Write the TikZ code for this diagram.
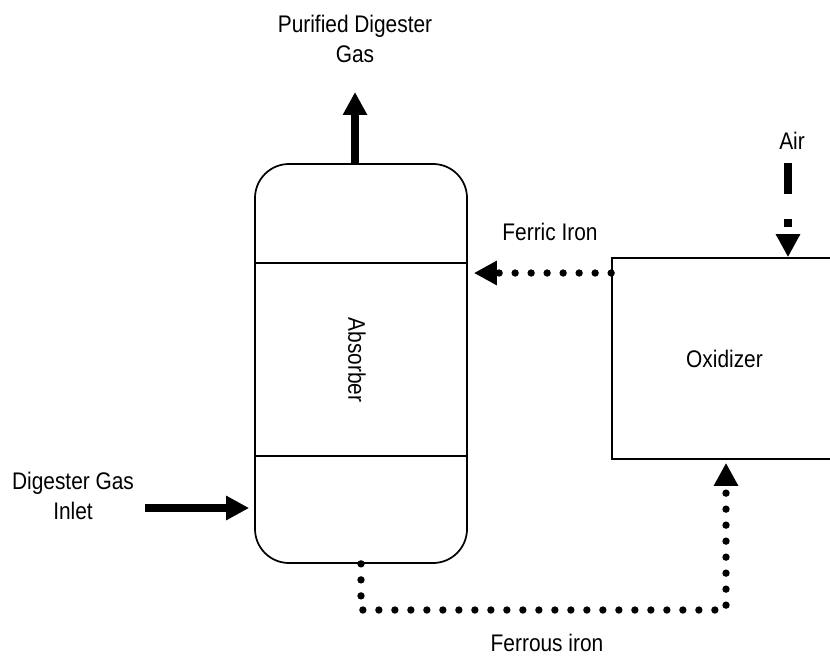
\documentclass[tikz,border=0pt]{standalone}
\usepackage{fontspec}
\setmainfont{Liberation Sans}[FakeStretch=0.87]
\usetikzlibrary{arrows.meta, calc}

\begin{document}
\begin{tikzpicture}[x=0.75pt, y=-0.75pt,
    lbl/.style={font=\fontsize{18}{22.5}\selectfont, inner sep=0pt, align=center},
    vessel/.style={draw, line width=1.3pt, rounded corners=25.5pt,
                   minimum width=159pt, minimum height=299.25pt},
    unit/.style={draw, line width=1.3pt, inner sep=0pt,
                 minimum width=168.75pt, minimum height=150.75pt,
                 font=\fontsize{18}{22.5}\selectfont},
    gas/.style={line width=6pt, -{Triangle[length=17.25pt, width=17.25pt]}},
    airline/.style={gas, dash pattern=on 23.25pt off 18.75pt on 6pt off 40pt},
    liquor/.style={line width=5.5pt, line cap=round, dash pattern=on 0pt off 12pt,
                   -{Triangle[length=17.25pt, width=17.25pt]}}]
  \useasboundingbox (0,0) rectangle (830,663);
  \clip (0,0) rectangle (830,663);

  % Absorber column
  \node[vessel] (abs) at (361,363.5) {};
  \draw[line width=1.3pt] (abs.west |- 0,263) -- (abs.east |- 0,263);
  \draw[line width=1.3pt] (abs.west |- 0,456) -- (abs.east |- 0,456);
  \node[lbl, rotate=-90] (abslbl) at (357,360) {Absorber};

  % Oxidizer (right side runs off the page)
  \node[unit] (ox) at (724.5,358.5) {Oxidizer};

  % Gas in and out
  \coordinate (gasout) at (355,92);
  \coordinate (gasin) at (145,508);
  \draw[gas] (abs.north -| gasout) -- (gasout);
  \draw[gas, shorten >=3.75pt] (gasin) -- (abs.west |- gasin);
  \node[lbl] (outlbl) at (355,38.5) {Purified Digester\\Gas};
  \node[lbl] (inlbl) at (73,496) {Digester Gas\\Inlet};

  % Air to oxidizer
  \coordinate (airin) at (788,163);
  \draw[airline] (airin) -- (ox.north -| airin);
  \node[lbl] (airlbl) at (792,141) {Air};

  % Iron loop
  \coordinate (ferric) at (612,273);
  \coordinate (ferrous) at (726,610);
  \draw[liquor, shorten >=4.5pt] (ox.west |- ferric) -- (abs.east |- ferric);
  \draw[liquor, shorten >=2.25pt] (abs.south) |- (ferrous) -- (ox.south -| ferrous);
  \node[lbl] (ferriclbl) at (550,232) {Ferric Iron};
  \node[lbl] (ferrouslbl) at (547,642.5) {Ferrous iron};
\end{tikzpicture}
\end{document}
